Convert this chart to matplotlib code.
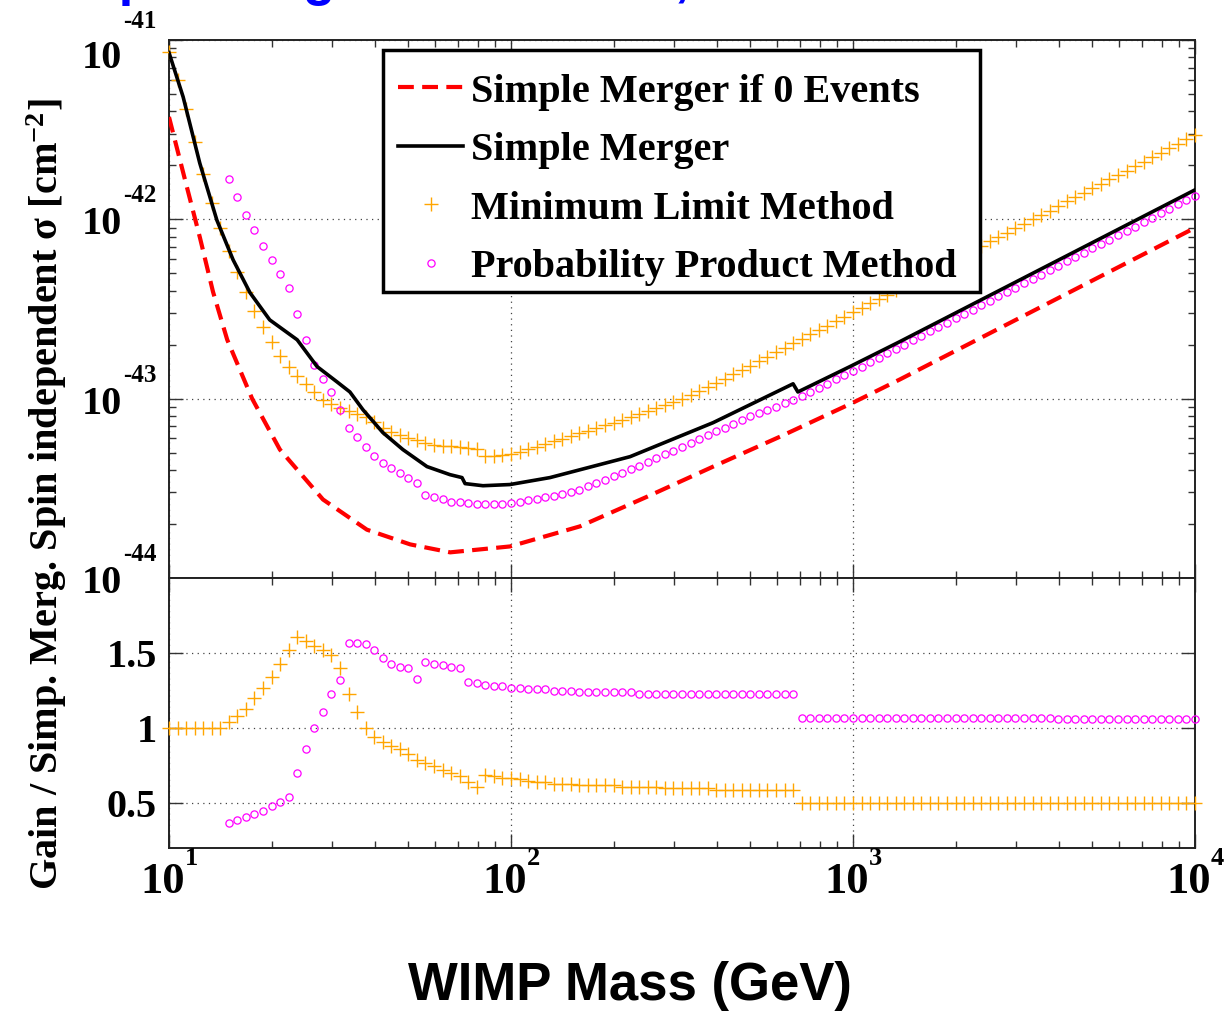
import matplotlib
matplotlib.use("Agg")
import matplotlib.pyplot as plt
from matplotlib.transforms import blended_transform_factory, offset_copy
from matplotlib.ticker import FixedLocator, LogLocator, NullLocator, NullFormatter
from matplotlib.font_manager import FontProperties
from matplotlib.patches import Rectangle

plt.rcParams['font.family'] = ['Liberation Serif', 'DejaVu Serif']
plt.rcParams['mathtext.fontset'] = 'custom'
plt.rcParams['mathtext.rm'] = 'Liberation Serif:bold'
plt.rcParams['mathtext.bf'] = 'Liberation Serif:bold'
plt.rcParams['mathtext.it'] = 'Liberation Serif:bold:italic'

# ---------------- data ----------------
# WIMP mass grid of the marker series (GeV)
MASS = [
    10.0, 10.59, 11.22, 11.89, 12.59, 13.34, 14.13, 14.96, 15.85, 16.79,
    17.78, 18.84, 19.95, 21.13, 22.39, 23.71, 25.12, 26.61, 28.18, 29.85,
    31.62, 33.50, 35.48, 37.58, 39.81, 42.17, 44.67, 47.32, 50.12, 53.09,
    56.23, 59.57, 63.10, 66.83, 70.79, 74.99, 79.43, 84.14, 89.13, 94.41,
    100.0, 105.9, 112.2, 118.9, 125.9, 133.4, 141.3, 149.6, 158.5, 167.9,
    177.8, 188.4, 199.5, 211.3, 223.9, 237.1, 251.2, 266.1, 281.8, 298.5,
    316.2, 335.0, 354.8, 375.8, 398.1, 421.7, 446.7, 473.2, 501.2, 530.9,
    562.3, 595.7, 631.0, 668.3, 707.9, 749.9, 794.3, 841.4, 891.3, 944.1,
    1000, 1059, 1122, 1189, 1259, 1334, 1413, 1496, 1585, 1679,
    1778, 1884, 1995, 2113, 2239, 2371, 2512, 2661, 2818, 2985,
    3162, 3350, 3548, 3758, 3981, 4217, 4467, 4732, 5012, 5309,
    5623, 5957, 6310, 6683, 7079, 7499, 7943, 8414, 8913, 9441,
    10000,
]
PPM_FIRST = 7  # Probability Product Method starts at MASS[7]

# Minimum Limit Method cross section (cm^-2) on MASS
MLM_SIGMA = [
    8.57e-42, 6.01e-42, 4.13e-42, 2.69e-42, 1.80e-42, 1.24e-42, 8.89e-43, 6.65e-43, 5.08e-43, 3.94e-43,
    3.10e-43, 2.52e-43, 2.07e-43, 1.74e-43, 1.51e-43, 1.33e-43, 1.20e-43, 1.09e-43, 9.89e-44, 9.34e-44,
    8.85e-44, 8.49e-44, 8.21e-44, 7.87e-44, 7.38e-44, 6.90e-44, 6.56e-44, 6.25e-44, 6.04e-44, 5.86e-44,
    5.69e-44, 5.53e-44, 5.48e-44, 5.43e-44, 5.38e-44, 5.32e-44, 5.24e-44, 4.76e-44, 4.80e-44, 4.84e-44,
    4.90e-44, 5.06e-44, 5.23e-44, 5.41e-44, 5.59e-44, 5.78e-44, 5.98e-44, 6.19e-44, 6.41e-44, 6.64e-44,
    6.87e-44, 7.11e-44, 7.36e-44, 7.65e-44, 7.94e-44, 8.24e-44, 8.57e-44, 8.89e-44, 9.23e-44, 9.60e-44,
    9.98e-44, 1.05e-43, 1.11e-43, 1.16e-43, 1.22e-43, 1.29e-43, 1.37e-43, 1.45e-43, 1.53e-43, 1.62e-43,
    1.71e-43, 1.82e-43, 1.92e-43, 2.04e-43, 2.15e-43, 2.28e-43, 2.41e-43, 2.55e-43, 2.70e-43, 2.86e-43,
    3.03e-43, 3.21e-43, 3.40e-43, 3.59e-43, 3.80e-43, 4.03e-43, 4.26e-43, 4.51e-43, 4.78e-43, 5.06e-43,
    5.35e-43, 5.66e-43, 6.00e-43, 6.35e-43, 6.72e-43, 7.11e-43, 7.53e-43, 7.97e-43, 8.44e-43, 8.93e-43,
    9.45e-43, 1.00e-42, 1.06e-42, 1.12e-42, 1.19e-42, 1.26e-42, 1.33e-42, 1.41e-42, 1.49e-42, 1.58e-42,
    1.67e-42, 1.77e-42, 1.87e-42, 1.98e-42, 2.10e-42, 2.22e-42, 2.35e-42, 2.49e-42, 2.63e-42, 2.79e-42,
    2.95e-42,
]

# Probability Product Method cross section (cm^-2) on MASS[7:]
PPM_SIGMA = [
    1.68e-42, 1.34e-42, 1.06e-42, 8.67e-43, 7.08e-43, 5.90e-43, 4.95e-43, 4.16e-43, 2.98e-43, 2.13e-43,
    1.54e-43, 1.28e-43, 1.09e-43, 8.69e-44, 6.84e-44, 6.14e-44, 5.41e-44, 4.77e-44, 4.38e-44, 4.12e-44,
    3.87e-44, 3.62e-44, 3.39e-44, 2.91e-44, 2.82e-44, 2.74e-44, 2.67e-44, 2.64e-44, 2.61e-44, 2.59e-44,
    2.57e-44, 2.58e-44, 2.59e-44, 2.61e-44, 2.66e-44, 2.71e-44, 2.76e-44, 2.82e-44, 2.88e-44, 2.95e-44,
    3.03e-44, 3.10e-44, 3.24e-44, 3.39e-44, 3.54e-44, 3.70e-44, 3.87e-44, 4.05e-44, 4.23e-44, 4.43e-44,
    4.65e-44, 4.89e-44, 5.14e-44, 5.40e-44, 5.68e-44, 5.96e-44, 6.26e-44, 6.58e-44, 6.90e-44, 7.24e-44,
    7.59e-44, 7.96e-44, 8.30e-44, 8.65e-44, 9.02e-44, 9.40e-44, 9.81e-44, 1.03e-43, 1.09e-43, 1.15e-43,
    1.21e-43, 1.28e-43, 1.35e-43, 1.43e-43, 1.51e-43, 1.60e-43, 1.69e-43, 1.79e-43, 1.89e-43, 2.00e-43,
    2.12e-43, 2.24e-43, 2.37e-43, 2.51e-43, 2.65e-43, 2.81e-43, 2.97e-43, 3.14e-43, 3.32e-43, 3.51e-43,
    3.72e-43, 3.93e-43, 4.16e-43, 4.40e-43, 4.65e-43, 4.92e-43, 5.20e-43, 5.51e-43, 5.82e-43, 6.15e-43,
    6.51e-43, 6.89e-43, 7.28e-43, 7.70e-43, 8.15e-43, 8.62e-43, 9.12e-43, 9.64e-43, 1.02e-42, 1.08e-42,
    1.14e-42, 1.21e-42, 1.28e-42, 1.35e-42,
]

# Simple Merger (solid line)
SM_MASS = [10.0, 11.0, 12.3, 13.8, 15.4, 17.25, 19.7, 23.7, 27.1, 31.0,
           33.8, 36.9, 42.2, 48.3, 56.8, 66.3, 71.9, 73.4, 82.8, 99.3,
           130, 223, 390, 668, 690, 980, 1371, 10000]
SM_SIGMA = [8.5e-42, 4.81e-42, 2.06e-42, 9.9e-43, 5.94e-43, 3.9e-43, 2.75e-43, 2.13e-43, 1.51e-43, 1.24e-43,
            1.09e-43, 8.68e-44, 6.47e-44, 5.2e-44, 4.18e-44, 3.77e-44, 3.63e-44, 3.36e-44, 3.27e-44, 3.32e-44,
            3.63e-44, 4.75e-44, 7.35e-44, 1.21e-43, 1.09e-43, 1.51e-43, 2.08e-43, 1.46e-42]

# Simple Merger if 0 Events (dashed line)
SM0_MASS = [10.0, 11.14, 12.32, 13.45, 14.8, 17.5, 21.1, 28.2, 37.9, 50.7,
            66.4, 99.4, 159, 250, 390, 612, 1000, 1371, 10000]
SM0_SIGMA = [3.72e-42, 1.66e-42, 7.88e-43, 3.94e-43, 2.13e-43, 1.0e-43, 5.2e-44, 2.74e-44, 1.86e-44, 1.54e-44,
             1.39e-44, 1.50e-44, 1.94e-44, 2.84e-44, 4.18e-44, 6.14e-44, 9.5e-44, 1.28e-43, 8.97e-43]

# Gain / Simple Merger, on MASS
MLM_GAIN = [
    1.00, 1.00, 1.00, 1.00, 1.00, 1.00, 1.00, 1.04, 1.08, 1.13,
    1.20, 1.27, 1.34, 1.43, 1.52, 1.61, 1.58, 1.55, 1.52, 1.49,
    1.40, 1.23, 1.11, 1.00, 0.94, 0.91, 0.88, 0.86, 0.83, 0.79,
    0.77, 0.75, 0.72, 0.70, 0.68, 0.64, 0.61, 0.69, 0.68, 0.67,
    0.67, 0.66, 0.65, 0.64, 0.64, 0.63, 0.63, 0.63, 0.62, 0.62,
    0.62, 0.62, 0.62, 0.61, 0.61, 0.61, 0.61, 0.61, 0.60, 0.60,
    0.60, 0.60, 0.60, 0.60, 0.59, 0.59, 0.59, 0.59, 0.59, 0.59,
    0.59, 0.59, 0.59, 0.59, 0.50, 0.50, 0.50, 0.50, 0.50, 0.50,
    0.50, 0.50, 0.50, 0.50, 0.50, 0.50, 0.50, 0.50, 0.50, 0.50,
    0.50, 0.50, 0.50, 0.50, 0.50, 0.50, 0.50, 0.50, 0.50, 0.50,
    0.50, 0.50, 0.50, 0.50, 0.50, 0.50, 0.50, 0.50, 0.50, 0.50,
    0.50, 0.50, 0.50, 0.50, 0.50, 0.50, 0.50, 0.50, 0.50, 0.50,
    0.50,
]
# Gain / Simple Merger, on MASS[7:]
PPM_GAIN = [
    0.37, 0.39, 0.41, 0.43, 0.45, 0.48, 0.51, 0.54, 0.70, 0.86,
    1.00, 1.11, 1.23, 1.32, 1.57, 1.57, 1.56, 1.52, 1.47, 1.43,
    1.41, 1.40, 1.33, 1.44, 1.43, 1.42, 1.41, 1.40, 1.31, 1.30,
    1.29, 1.28, 1.28, 1.27, 1.27, 1.26, 1.26, 1.26, 1.25, 1.25,
    1.25, 1.24, 1.24, 1.24, 1.24, 1.24, 1.24, 1.24, 1.23, 1.23,
    1.23, 1.23, 1.23, 1.23, 1.23, 1.23, 1.23, 1.23, 1.23, 1.23,
    1.23, 1.23, 1.23, 1.23, 1.23, 1.23, 1.23, 1.07, 1.07, 1.07,
    1.07, 1.07, 1.07, 1.07, 1.07, 1.07, 1.07, 1.07, 1.07, 1.07,
    1.07, 1.07, 1.07, 1.07, 1.07, 1.07, 1.07, 1.07, 1.07, 1.07,
    1.07, 1.07, 1.07, 1.07, 1.07, 1.07, 1.07, 1.06, 1.06, 1.06,
    1.06, 1.06, 1.06, 1.06, 1.06, 1.06, 1.06, 1.06, 1.06, 1.06,
    1.06, 1.06, 1.06, 1.06,
]

LEGEND_LABELS = ["Simple Merger if 0 Events", "Simple Merger",
                 "Minimum Limit Method", "Probability Product Method"]
X_TICKS = [10, 100, 1000, 10000]
X_EXP = ["1", "2", "3", "4"]
Y_TICKS = [1e-41, 1e-42, 1e-43, 1e-44]
Y_EXP = ["-41", "-42", "-43", "-44"]
GAIN_TICKS = [0.5, 1.0, 1.5]
GAIN_LABELS = ["0.5", "1", "1.5"]
TITLE = "Simple Merger vs. Method, 0 Events"
XLABEL = "WIMP Mass (GeV)"
YLABEL = "Gain / Simp. Merg. Spin independent \u03c3 [cm$^{-2}$]"

ORANGE = "#FFA500"
MAGENTA = "#FF00FF"

# ---------------- figure ----------------
W, H = 1230, 1013
fig = plt.figure(figsize=(W / 100, H / 100), dpi=100)
L, R = 169, 1195
TOP, MID, BOT = 40, 578, 848
ax = fig.add_axes([L / W, 1 - MID / H, (R - L) / W, (MID - TOP) / H])
ax2 = fig.add_axes([L / W, 1 - BOT / H, (R - L) / W, (BOT - MID) / H])

PPM_MASS = MASS[PPM_FIRST:]

h_mlm, = ax.plot(MASS, MLM_SIGMA, ls='none', marker='+', ms=9.5, mew=1.0,
                 color=ORANGE, clip_on=False, zorder=3)
h_ppm, = ax.plot(PPM_MASS, PPM_SIGMA, ls='none', marker='o', ms=5.2, mew=0.9,
                 mfc='none', mec=MAGENTA, clip_on=False, zorder=3)
h_sm, = ax.plot(SM_MASS, SM_SIGMA, color='black', lw=2.6, zorder=4)
h_sm0, = ax.plot(SM0_MASS, SM0_SIGMA, color='#FF0000', lw=3, dashes=(3.8, 2.0), zorder=4)

ax2.plot(MASS, MLM_GAIN, ls='none', marker='+', ms=9.5, mew=1.0, color=ORANGE,
         clip_on=False, zorder=3)
ax2.plot(PPM_MASS, PPM_GAIN, ls='none', marker='o', ms=5.2, mew=0.9, mfc='none',
         mec=MAGENTA, clip_on=False, zorder=3)

ax.set_yscale('log')
ax.set_ylim(1e-44, 1e-41)
ax2.set_ylim(0.2, 2.0)
for a in (ax, ax2):
    a.set_xscale('log')
    a.set_xlim(10, 1e4)
    a.xaxis.set_major_locator(FixedLocator(X_TICKS))
    a.xaxis.set_minor_locator(LogLocator(base=10, subs=[2, 3, 4, 5, 6, 7, 8, 9], numticks=20))
    a.xaxis.set_minor_formatter(NullFormatter())
    a.tick_params(which='both', direction='in', top=True, right=True, bottom=True, left=True,
                  labelbottom=False, labelleft=False, color='#333333', width=1.0)
    a.tick_params(which='major', length=10)
    a.tick_params(which='minor', length=5)
    for s in a.spines.values():
        s.set_linewidth(1.4)
        s.set_color('#222222')
    a.grid(True, which='major', linestyle=(0, (1, 3.5)), color='#444444', linewidth=0.9)
    a.set_axisbelow(True)

ax.yaxis.set_major_locator(FixedLocator(Y_TICKS))
ax.yaxis.set_minor_locator(LogLocator(base=10, subs=[2, 3, 4, 5, 6, 7, 8, 9], numticks=20))
ax.yaxis.set_minor_formatter(NullFormatter())
ax2.yaxis.set_major_locator(FixedLocator(GAIN_TICKS))
ax2.yaxis.set_minor_locator(NullLocator())

BOLD = dict(fontweight='bold', family=['Liberation Serif', 'DejaVu Serif'])

# y tick labels of the upper panel: "10" plus raised exponent
tr_y = blended_transform_factory(ax.transAxes, ax.transData)
for v, e in zip(Y_TICKS, Y_EXP):
    first = (v == Y_TICKS[0])
    dy10 = -28 if first else -15
    dye = 12 if first else 17
    ax.text(0, v, "10", transform=offset_copy(tr_y, fig=fig, x=-47, y=dy10, units='dots'),
            ha='right', va='baseline', fontsize=29, **BOLD)
    ax.text(0, v, e, transform=offset_copy(tr_y, fig=fig, x=-46, y=dye, units='dots'),
            ha='left', va='baseline', fontsize=18, **BOLD)

# y tick labels of the gain panel
tr_g = blended_transform_factory(ax2.transAxes, ax2.transData)
for v, s in zip(GAIN_TICKS, GAIN_LABELS):
    ax2.text(0, v, s, transform=offset_copy(tr_g, fig=fig, x=-12, y=-14, units='dots'),
             ha='right', va='baseline', fontsize=29, **BOLD)

# x tick labels
tr_x = blended_transform_factory(ax2.transData, ax2.transAxes)
for v, e in zip(X_TICKS, X_EXP):
    ax2.text(v, 0, "10", transform=offset_copy(tr_x, fig=fig, x=-6, y=-45, units='dots'),
             ha='center', va='baseline', fontsize=32, **BOLD)
    ax2.text(v, 0, e, transform=offset_copy(tr_x, fig=fig, x=16, y=-17, units='dots'),
             ha='left', va='baseline', fontsize=19, **BOLD)

# legend box (drawn as a frame) and legend entries
BOX_L, BOX_R, BOX_T, BOX_B = 383, 980, 50, 292
ax.add_patch(Rectangle(((BOX_L - L) / (R - L), (MID - BOX_B) / (MID - TOP)),
                       (BOX_R - BOX_L) / (R - L), (BOX_B - BOX_T) / (MID - TOP),
                       transform=ax.transAxes, facecolor='white', edgecolor='black',
                       linewidth=2.5, zorder=9, clip_on=False))
leg = ax.legend([h_sm0, h_sm, h_mlm, h_ppm], LEGEND_LABELS, loc='upper left',
                bbox_to_anchor=((BOX_L - L) / (R - L), (MID - BOX_T - 8) / (MID - TOP)),
                borderaxespad=0,
                prop=FontProperties(family='Liberation Serif', weight='bold', size=29),
                frameon=False, borderpad=0.38, handlelength=1.6, handletextpad=0.2,
                labelspacing=0.53, numpoints=1)
leg.set_zorder(10)

# axis titles
fig.text(47 / W, 1 - 494 / H, YLABEL, rotation=90, ha='center', va='center',
         fontsize=29, **BOLD)
fig.text(630 / W, 1 - 1000 / H, XLABEL, ha='center', va='baseline', fontsize=38,
         fontweight='bold', family=['Liberation Sans', 'DejaVu Sans'])
fig.text(22 / W, 1 + 5 / H, TITLE, ha='left', va='baseline', fontsize=38,
         fontweight='bold', color='#0000FF', family=['Liberation Sans', 'DejaVu Sans'])

fig.savefig("out.png", dpi=100)
